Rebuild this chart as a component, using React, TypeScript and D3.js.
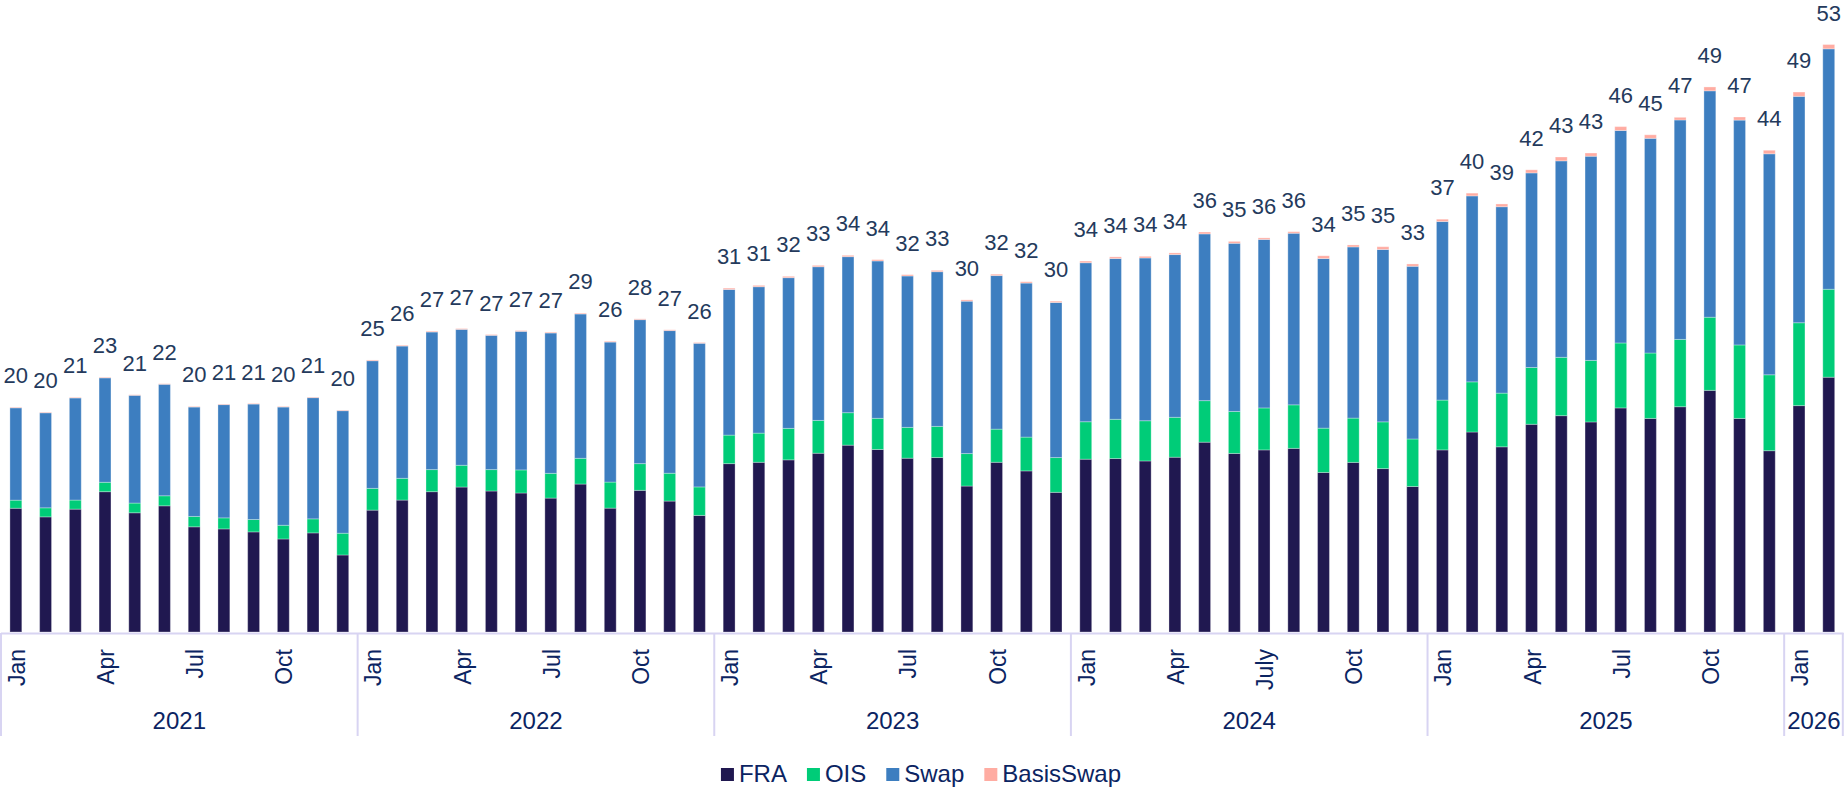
import React, { useEffect, useRef } from "react";
import * as d3 from "d3";

// ---------- data ----------
const years = ["2021", "2022", "2023", "2024", "2025", "2026"];
const monthsPerYear = [12, 12, 12, 12, 12, 2];

const monthTicks = [
  "Jan", "", "", "Apr", "", "", "Jul", "", "", "Oct", "", "",
  "Jan", "", "", "Apr", "", "", "Jul", "", "", "Oct", "", "",
  "Jan", "", "", "Apr", "", "", "Jul", "", "", "Oct", "", "",
  "Jan", "", "", "Apr", "", "", "July", "", "", "Oct", "", "",
  "Jan", "", "", "Apr", "", "", "Jul", "", "", "Oct", "", "",
  "Jan", "",
];

const fra = [
  11.2, 10.42, 11.12, 12.7, 10.79, 11.42, 9.52, 9.33, 9.06, 8.42, 8.97, 6.97,
  11.03, 11.94, 12.7, 13.12, 12.76, 12.58, 12.12, 13.39, 11.21, 12.82, 11.85, 10.55,
  15.24, 15.36, 15.58, 16.18, 16.91, 16.52, 15.73, 15.79, 13.21, 15.36, 14.58, 12.64,
  15.64, 15.7, 15.48, 15.82, 17.18, 16.16, 16.48, 16.62, 14.44, 15.35, 14.79, 13.17,
  16.48, 18.1, 16.76, 18.8, 19.58, 19.01, 20.28, 19.33, 20.39, 21.87, 19.33, 16.41,
  20.49, 23.06,
];
const ois = [
  0.73, 0.82, 0.82, 0.85, 0.88, 0.91, 0.94, 1.0, 1.12, 1.24, 1.27, 1.97,
  1.97, 1.97, 2.0, 1.97, 1.94, 2.09, 2.24, 2.33, 2.36, 2.42, 2.52, 2.58,
  2.58, 2.64, 2.85, 2.97, 2.94, 2.82, 2.79, 2.82, 2.94, 3.0, 3.06, 3.15,
  3.39, 3.55, 3.64, 3.61, 3.76, 3.8, 3.8, 3.94, 4.01, 4.01, 4.23, 4.3,
  4.51, 4.54, 4.86, 5.14, 5.28, 5.57, 5.88, 5.92, 6.09, 6.62, 6.65, 6.87,
  7.5, 7.96,
];
const swap = [
  8.36, 8.6, 9.24, 9.45, 9.75, 10.09, 9.9, 10.25, 10.45, 10.7, 10.97, 11.09,
  11.55, 11.97, 12.45, 12.3, 12.15, 12.54, 12.7, 13.06, 12.67, 13.03, 12.91, 13.0,
  13.18, 13.25, 13.64, 13.91, 14.12, 14.24, 13.7, 14.0, 13.79, 13.9, 13.94, 14.03,
  14.39, 14.55, 14.73, 14.73, 15.09, 15.22, 15.25, 15.53, 15.35, 15.49, 15.6, 15.63,
  16.16, 16.83, 16.87, 17.61, 17.78, 18.48, 19.23, 19.43, 19.86, 20.49, 20.35, 20.0,
  20.49, 21.76,
];
const basisSwap = [
  0.05, 0.05, 0.05, 0.05, 0.05, 0.05, 0.05, 0.05, 0.05, 0.05, 0.05, 0.05,
  0.07, 0.07, 0.07, 0.07, 0.07, 0.07, 0.07, 0.07, 0.07, 0.07, 0.07, 0.07,
  0.12, 0.12, 0.12, 0.12, 0.12, 0.12, 0.12, 0.12, 0.12, 0.12, 0.12, 0.12,
  0.15, 0.15, 0.15, 0.15, 0.17, 0.17, 0.14, 0.14, 0.25, 0.18, 0.25, 0.21,
  0.21, 0.25, 0.25, 0.28, 0.35, 0.29, 0.35, 0.32, 0.24, 0.35, 0.28, 0.32,
  0.39, 0.39,
];

const seriesKeys = ["FRA", "OIS", "Swap", "BasisSwap"];
const seriesColors = ["#201850", "#00cc78", "#3d7ec0", "#ffaca2"];

const W = 1844;
const H = 788;
const FONT = "'Liberation Sans', Arial, sans-serif";

export default function App() {
  const ref = useRef<SVGSVGElement>(null);

  useEffect(() => {
    const svg = d3.select(ref.current);
    svg.selectAll("*").remove();

    const n = fra.length;
    const idx = d3.range(n);
    const x = d3
      .scaleBand<number>()
      .domain(idx)
      .range([1, 1843.6])
      .paddingInner(0.6)
      .paddingOuter(0.3);
    const step = x.step();
    const x0 = 1;
    const y = d3.scaleLinear().domain([0, 57.2]).range([632, 0]);

    const rows = idx.map((i) => ({
      i,
      FRA: fra[i],
      OIS: ois[i],
      Swap: swap[i],
      BasisSwap: basisSwap[i],
    }));
    const stacked = d3.stack<any>().keys(seriesKeys)(rows);

    // bars
    const g = svg.append("g");
    stacked.forEach((layer, k) => {
      g.append("g")
        .selectAll("rect")
        .data(layer)
        .join("rect")
        .attr("x", (d: any) => x(d.data.i)!)
        .attr("width", x.bandwidth())
        .attr("y", (d: any) => y(d[1]))
        .attr("height", (d: any) => Math.max(0, y(d[0]) - y(d[1])))
        .attr("fill", seriesColors[k])
        .attr("stroke", "rgba(255,255,255,0.3)")
        .attr("stroke-width", 1);
    });

    // totals
    g.append("g")
      .selectAll("text")
      .data(rows)
      .join("text")
      .attr("x", (d) => x(d.i)! + x.bandwidth() / 2)
      .attr("y", (d) => y(d.FRA + d.OIS + d.Swap + d.BasisSwap) - 24)
      .attr("text-anchor", "middle")
      .attr("font-family", FONT)
      .attr("font-size", 22)
      .attr("fill", "#243a5c")
      .text((d) => String(Math.round(d.FRA + d.OIS + d.Swap + d.BasisSwap)));

    // axis line
    const axisColor = "#d8d4f2";
    svg
      .append("line")
      .attr("x1", x0)
      .attr("x2", x0 + step * n)
      .attr("y1", 633.5)
      .attr("y2", 633.5)
      .attr("stroke", axisColor)
      .attr("stroke-width", 2);

    // year dividers and labels
    let start = 0;
    const bounds: number[] = [0];
    years.forEach((yr, k) => {
      const cnt = monthsPerYear[k];
      const xa = x0 + start * step;
      const xb = x0 + (start + cnt) * step;
      svg
        .append("text")
        .attr("x", (xa + xb) / 2)
        .attr("y", 729)
        .attr("text-anchor", "middle")
        .attr("font-family", FONT)
        .attr("font-size", 24)
        .attr("fill", "#0b2462")
        .text(yr);
      start += cnt;
      bounds.push(start);
    });
    svg
      .append("g")
      .selectAll("line")
      .data(bounds)
      .join("line")
      .attr("x1", (b) => Math.min(x0 + b * step, W - 1.2))
      .attr("x2", (b) => Math.min(x0 + b * step, W - 1.2))
      .attr("y1", 633)
      .attr("y2", 736)
      .attr("stroke", axisColor)
      .attr("stroke-width", 2);

    // month ticks
    svg
      .append("g")
      .selectAll("text")
      .data(idx.filter((i) => monthTicks[i] !== ""))
      .join("text")
      .attr(
        "transform",
        (i) => `translate(${x(i)! + x.bandwidth() / 2 + 1},649) rotate(-90)`
      )
      .attr("text-anchor", "end")
      .attr("dominant-baseline", "central")
      .attr("font-family", FONT)
      .attr("font-size", 23)
      .attr("fill", "#0b2462")
      .text((i) => monthTicks[i]);

    // legend
    const lg = svg.append("g");
    const sq = 13;
    const gapIn = 5;
    const gapOut = 20;
    const items = seriesKeys.map((key, k) => {
      const t = lg
        .append("text")
        .attr("font-family", FONT)
        .attr("font-size", 24)
        .attr("fill", "#0b2462")
        .attr("y", 782)
        .text(key);
      const w = (t.node() as SVGTextElement).getComputedTextLength();
      return { key, k, t, w };
    });
    const total =
      d3.sum(items, (d) => sq + gapIn + d.w) + gapOut * (items.length - 1);
    let cx = 921 - total / 2;
    items.forEach((it) => {
      lg.append("rect")
        .attr("x", cx)
        .attr("y", 768)
        .attr("width", sq)
        .attr("height", sq)
        .attr("fill", seriesColors[it.k]);
      it.t.attr("x", cx + sq + gapIn);
      cx += sq + gapIn + it.w + gapOut;
    });
  }, []);

  return (
    <svg
      ref={ref}
      width={W}
      height={H}
      style={{ position: "absolute", left: 0, top: 0, display: "block", background: "#fff" }}
    />
  );
}
